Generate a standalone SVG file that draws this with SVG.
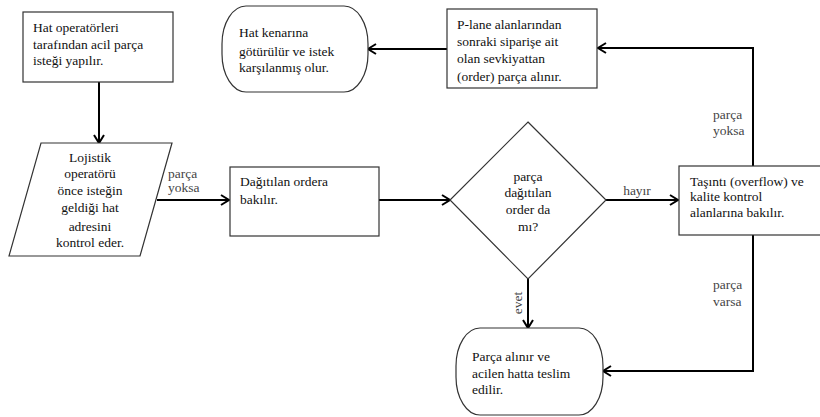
<svg xmlns="http://www.w3.org/2000/svg" width="820" height="417" viewBox="0 0 820 417">
<defs>
<marker id="arr" markerWidth="12" markerHeight="12" refX="10" refY="6" orient="auto" markerUnits="userSpaceOnUse">
<path d="M2,1 L10,6 L2,11" fill="none" stroke="#000" stroke-width="2"/>
</marker>
</defs>
<style>
.s{fill:#fff;stroke:#333;stroke-width:1.2}
.c{fill:none;stroke:#000;stroke-width:2}
</style>
<rect width="820" height="417" fill="#fff"/>
<g id="connectors">
<path class="c" d="M99,82 V143" marker-end="url(#arr)"/>
<path class="c" d="M157,200 H229" marker-end="url(#arr)"/>
<path class="c" d="M379,200 H450" marker-end="url(#arr)"/>
<path class="c" d="M606,200 H678" marker-end="url(#arr)"/>
<path class="c" d="M528,279 V328" marker-end="url(#arr)"/>
<path class="c" d="M753,166 V48 H598" marker-end="url(#arr)"/>
<path class="c" d="M753,235 V371 H603" marker-end="url(#arr)"/>
<path class="c" d="M447,49 H368" marker-end="url(#arr)"/>
<text font-family="Liberation Serif, serif" font-size="13.5" fill="#444" x="168" y="178">parça</text>
<text font-family="Liberation Serif, serif" font-size="13.5" fill="#444" x="168" y="192">yoksa</text>
<text font-family="Liberation Serif, serif" font-size="13.5" fill="#444" text-anchor="middle" x="637" y="195">hayır</text>
<text font-family="Liberation Serif, serif" font-size="13.5" fill="#444" x="713" y="119">parça</text>
<text font-family="Liberation Serif, serif" font-size="13.5" fill="#444" x="713" y="135">yoksa</text>
<text font-family="Liberation Serif, serif" font-size="13.5" fill="#444" x="713" y="289">parça</text>
<text font-family="Liberation Serif, serif" font-size="13.5" fill="#444" x="713" y="306">varsa</text>
<text font-family="Liberation Serif, serif" font-size="13.5" fill="#444" text-anchor="middle" transform="translate(522,303) rotate(-90)">evet</text>
</g>
<g id="n1">
<rect class="s" x="23" y="12" width="150" height="70"/>
<text font-family="Liberation Serif, serif" font-size="13.5" fill="#111" x="33" y="32">Hat operatörleri</text>
<text font-family="Liberation Serif, serif" font-size="13.5" fill="#111" x="33" y="49">tarafından acil parça</text>
<text font-family="Liberation Serif, serif" font-size="13.5" fill="#111" x="33" y="65">isteği yapılır.</text>
</g>
<g id="n2">
<polygon class="s" points="41,143 172,143 140,256 9,256"/>
<text font-family="Liberation Serif, serif" font-size="13.5" fill="#111" text-anchor="middle" x="90" y="162">Lojistik</text>
<text font-family="Liberation Serif, serif" font-size="13.5" fill="#111" text-anchor="middle" x="90" y="178">operatörü</text>
<text font-family="Liberation Serif, serif" font-size="13.5" fill="#111" text-anchor="middle" x="90" y="195">önce isteğin</text>
<text font-family="Liberation Serif, serif" font-size="13.5" fill="#111" text-anchor="middle" x="90" y="212">geldiği hat</text>
<text font-family="Liberation Serif, serif" font-size="13.5" fill="#111" text-anchor="middle" x="90" y="231">adresini</text>
<text font-family="Liberation Serif, serif" font-size="13.5" fill="#111" text-anchor="middle" x="90" y="247">kontrol eder.</text>
</g>
<g id="n3">
<rect class="s" x="230" y="167" width="149" height="69"/>
<text font-family="Liberation Serif, serif" font-size="13.5" fill="#111" x="240" y="186">Dağıtılan ordera</text>
<text font-family="Liberation Serif, serif" font-size="13.5" fill="#111" x="240" y="204">bakılır.</text>
</g>
<g id="n4">
<polygon class="s" points="528,122 606,200 528,279 450,200"/>
<text font-family="Liberation Serif, serif" font-size="13.5" fill="#111" text-anchor="middle" x="528" y="181">parça</text>
<text font-family="Liberation Serif, serif" font-size="13.5" fill="#111" text-anchor="middle" x="528" y="197">dağıtılan</text>
<text font-family="Liberation Serif, serif" font-size="13.5" fill="#111" text-anchor="middle" x="528" y="214">order da</text>
<text font-family="Liberation Serif, serif" font-size="13.5" fill="#111" text-anchor="middle" x="528" y="231">mı?</text>
</g>
<g id="n5">
<rect class="s" x="679" y="166" width="145" height="69"/>
<text font-family="Liberation Serif, serif" font-size="13.5" fill="#111" x="690" y="186">Taşıntı (overflow) ve</text>
<text font-family="Liberation Serif, serif" font-size="13.5" fill="#111" x="690" y="201">kalite kontrol</text>
<text font-family="Liberation Serif, serif" font-size="13.5" fill="#111" x="690" y="217">alanlarına bakılır.</text>
</g>
<g id="n6">
<rect class="s" x="447" y="9" width="150" height="79"/>
<text font-family="Liberation Serif, serif" font-size="13.5" fill="#111" x="457" y="29">P-lane alanlarından</text>
<text font-family="Liberation Serif, serif" font-size="13.5" fill="#111" x="457" y="46">sonraki siparişe ait</text>
<text font-family="Liberation Serif, serif" font-size="13.5" fill="#111" x="457" y="63">olan sevkiyattan</text>
<text font-family="Liberation Serif, serif" font-size="13.5" fill="#111" x="457" y="81">(order) parça alınır.</text>
</g>
<g id="n7">
<rect class="s" x="222" y="6" width="146" height="86" rx="24" ry="38"/>
<text font-family="Liberation Serif, serif" font-size="13.5" fill="#111" x="239" y="37">Hat kenarına</text>
<text font-family="Liberation Serif, serif" font-size="13.5" fill="#111" x="239" y="56">götürülür ve istek</text>
<text font-family="Liberation Serif, serif" font-size="13.5" fill="#111" x="239" y="72">karşılanmış olur.</text>
</g>
<g id="n8">
<rect class="s" x="456" y="328" width="147" height="87" rx="24" ry="38"/>
<text font-family="Liberation Serif, serif" font-size="13.5" fill="#111" x="472" y="361">Parça alınır ve</text>
<text font-family="Liberation Serif, serif" font-size="13.5" fill="#111" x="472" y="378">acilen hatta teslim</text>
<text font-family="Liberation Serif, serif" font-size="13.5" fill="#111" x="472" y="394">edilir.</text>
</g>
</svg>
